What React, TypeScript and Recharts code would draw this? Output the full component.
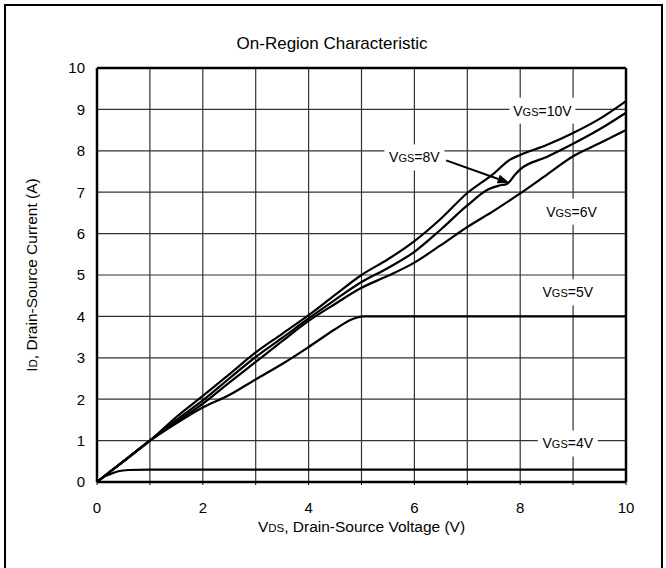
import { LineChart, Line, XAxis, YAxis, CartesianGrid, ReferenceLine, ReferenceDot, Label } from "recharts";

const FONT = '"Liberation Sans", Arial, Helvetica, sans-serif';

// axis ticks (grid every 1 V / 1 A, labels on even volts only)
const xTicks = [0, 1, 2, 3, 4, 5, 6, 7, 8, 9, 10];
const yTicks = [0, 1, 2, 3, 4, 5, 6, 7, 8, 9, 10];

// VDS (V), ID (A)
const vgs10V = [
  [0, 0], [0.5, 0.5], [1, 1], [1.5, 1.57], [2, 2.08], [2.5, 2.6], [3, 3.13], [3.5, 3.58],
  [4, 4.03], [4.5, 4.52], [5, 5.0], [5.5, 5.38], [6, 5.82], [6.5, 6.36], [7, 6.98],
  [7.5, 7.45], [7.8, 7.78], [8, 7.9], [8.5, 8.14], [9, 8.43], [9.5, 8.77], [10, 9.2],
];
const vgs8V = [
  [0, 0], [0.5, 0.5], [1, 1], [1.5, 1.5], [2, 1.97], [2.5, 2.5], [3, 3.02], [3.5, 3.48],
  [4, 3.95], [4.5, 4.4], [5, 4.83], [5.5, 5.17], [6, 5.56], [6.5, 6.1], [7, 6.68],
  [7.4, 7.07], [7.6, 7.16], [7.75, 7.2], [7.9, 7.42], [8, 7.55], [8.5, 7.85], [9, 8.17],
  [9.5, 8.52], [10, 8.92],
];
const vgs6V = [
  [0, 0], [0.5, 0.5], [1, 1], [1.5, 1.45], [2, 1.89], [2.5, 2.4], [3, 2.9], [3.5, 3.4],
  [4, 3.89], [4.5, 4.3], [5, 4.69], [5.5, 4.98], [6, 5.3], [6.5, 5.72], [7, 6.16],
  [7.5, 6.55], [8, 6.97], [8.5, 7.42], [9, 7.87], [9.5, 8.18], [10, 8.5],
];
const vgs5V = [
  [0, 0], [0.5, 0.5], [1, 1], [1.5, 1.42], [2, 1.8], [2.5, 2.1], [3, 2.48], [3.5, 2.85],
  [4, 3.26], [4.5, 3.69], [4.8, 3.92], [5.05, 4.0], [10, 4.0],
];
const vgs4V = [
  [0, 0], [0.1, 0.1], [0.25, 0.19], [0.4, 0.26], [0.6, 0.29], [1, 0.3], [10, 0.3],
];

const curves = [vgs10V, vgs8V, vgs6V, vgs5V, vgs4V];

// curve labels: [gate voltage, VDS, ID] where the label sits
const curveLabels: [string, number, number][] = [
  ["10V", 8.42, 8.97],
  ["8V", 6.0, 7.84],
  ["6V", 8.97, 6.53],
  ["5V", 8.9, 4.58],
  ["4V", 8.9, 0.93],
];
// arrow from the 8V label to its curve
const arrowFrom = { x: 6.6, y: 7.77 };
const arrowTo = { x: 7.8, y: 7.22 };

const toPoints = (pts: number[][]) => pts.map(([vds, id]) => ({ vds, id }));

function CurveLabel({ cx, cy, text }: { cx: number; cy: number; text: string }) {
  const w = text.length > 2 ? 66 : 60;
  return (
    <g>
      <rect x={cx - w / 2} y={cy - 13} width={w} height={26} fill="#fff" />
      <text x={cx} y={cy + 5} textAnchor="middle" fontFamily={FONT} fontSize={14} fill="#000">
        V<tspan fontSize={11}>GS</tspan>={text}
      </text>
    </g>
  );
}

function Arrow(props: any) {
  const { x1, y1, x2, y2 } = props;
  const a = Math.atan2(y2 - y1, x2 - x1);
  const len = 12;
  const hw = 4.5;
  const bx = x2 - len * Math.cos(a);
  const by = y2 - len * Math.sin(a);
  const nx = -Math.sin(a) * hw;
  const ny = Math.cos(a) * hw;
  return (
    <g>
      <line x1={x1} y1={y1} x2={bx} y2={by} stroke="#000" strokeWidth={2} />
      <polygon points={`${x2},${y2} ${bx + nx},${by + ny} ${bx - nx},${by - ny}`} fill="#000" />
    </g>
  );
}

export default function App() {
  return (
    <div style={{ position: "absolute", left: 0, top: 0, width: 666, height: 568, overflow: "hidden", background: "#fff" }}>
      <div
        style={{
          position: "absolute",
          left: 4,
          top: 4,
          width: 659,
          height: 620,
          border: "2px solid #000",
          boxSizing: "border-box",
        }}
      />
      <div
        style={{
          position: "absolute",
          top: 33,
          left: 0,
          width: 664,
          textAlign: "center",
          fontFamily: FONT,
          fontSize: 17,
          lineHeight: "22px",
          color: "#000",
        }}
      >
        On-Region Characteristic
      </div>
      <LineChart
        width={666}
        height={568}
        margin={{ top: 68, right: 40, bottom: 0, left: 0 }}
        style={{ position: "absolute", left: 0, top: 0 }}
      >
        <CartesianGrid stroke="#333" strokeWidth={1.2} />
        <XAxis
          dataKey="vds"
          type="number"
          domain={[0, 10]}
          ticks={xTicks}
          interval={0}
          tickFormatter={(v: number) => (v % 2 === 0 ? String(v) : "")}
          height={86}
          axisLine={{ stroke: "#000", strokeWidth: 2.5 }}
          tickLine={{ stroke: "#000", strokeWidth: 1 }}
          tickSize={3}
          tickMargin={17}
          tick={{ fontFamily: FONT, fontSize: 15, fill: "#000" }}
          allowDuplicatedCategory={false}
        >
          <Label
            content={({ viewBox }: any) => (
              <text x={viewBox.x + viewBox.width / 2} y={viewBox.y + 50} textAnchor="middle" fontFamily={FONT} fontSize={15.5} fill="#000">
                V<tspan fontSize={11.5}>DS</tspan>, Drain-Source Voltage (V)
              </text>
            )}
          />
        </XAxis>
        <YAxis
          type="number"
          domain={[0, 10]}
          ticks={yTicks}
          interval={0}
          width={97}
          axisLine={{ stroke: "#000", strokeWidth: 2.5 }}
          tickLine={false}
          tickSize={0}
          tickMargin={12}
          tick={{ fontFamily: FONT, fontSize: 15, fill: "#000" }}
        >
          <Label
            content={({ viewBox }: any) => {
              const cx = viewBox.x + 37;
              const cy = viewBox.y + viewBox.height / 2;
              return (
                <text x={cx} y={cy} transform={`rotate(-90 ${cx} ${cy})`} textAnchor="middle" fontFamily={FONT} fontSize={15.5} fill="#000">
                  I<tspan fontSize={11.5}>D</tspan>, Drain-Source Current (A)
                </text>
              );
            }}
          />
        </YAxis>
        <ReferenceLine y={10} stroke="#000" strokeWidth={2.5} />
        <ReferenceLine x={10} stroke="#000" strokeWidth={2.5} />
        {curveLabels.map(([t, x, y]) => (
          <ReferenceDot
            key={t}
            x={x}
            y={y}
            r={0}
            shape={(p: any) => <CurveLabel cx={p.cx} cy={p.cy} text={t} />}
          />
        ))}
        <ReferenceLine segment={[arrowFrom, arrowTo]} shape={(p: any) => <Arrow {...p} />} />
        {curves.map((c, i) => (
          <Line
            key={i}
            data={toPoints(c)}
            dataKey="id"
            type="monotone"
            stroke="#000"
            strokeWidth={2.2}
            dot={false}
            activeDot={false}
            isAnimationActive={false}
          />
        ))}
      </LineChart>
    </div>
  );
}
